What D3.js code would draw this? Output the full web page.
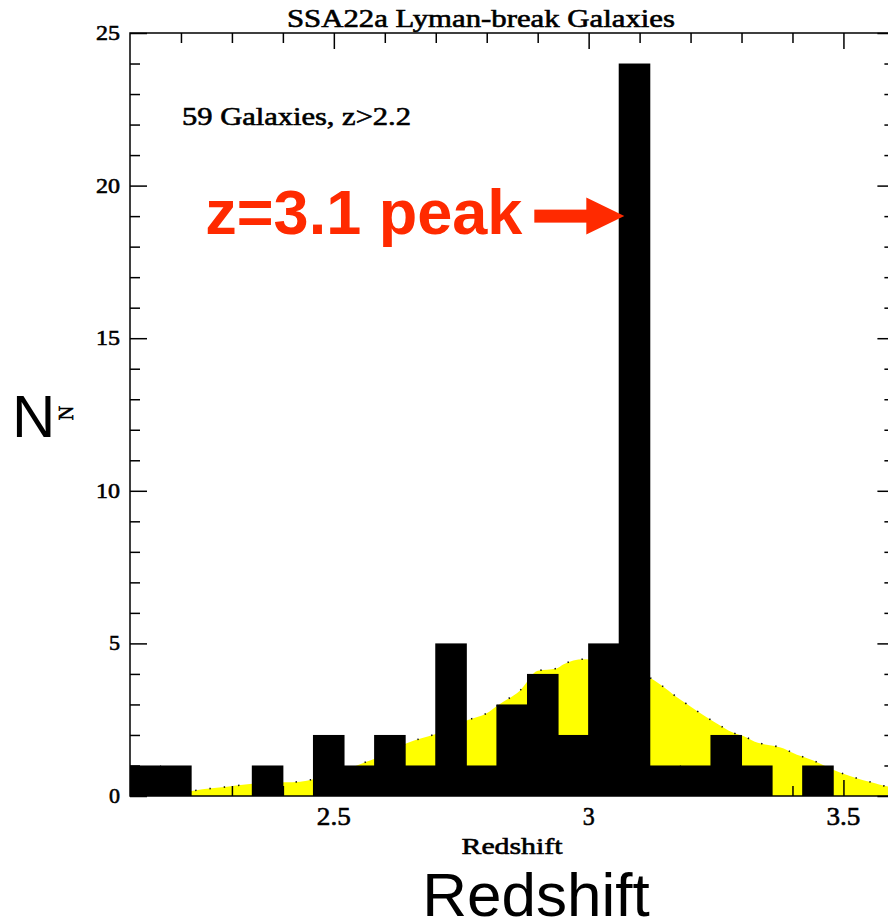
<!DOCTYPE html>
<html>
<head>
<meta charset="utf-8">
<script src="https://cdn.jsdelivr.net/npm/d3@7"></script>
<style>
  html, body { margin: 0; padding: 0; background: #fff; }
  svg { display: block; }
</style>
</head>
<body>
<svg id="chart" width="888" height="923"></svg>
<script>
// ---------------- DATA ----------------
const title = "SSA22a Lyman-break Galaxies";
const note = "59 Galaxies, z>2.2";
const xLabel = "Redshift";
const yLabel = "N";
const bigXLabel = "Redshift";
const bigYLabel = "N";
const peakText = "z=3.1 peak";

// histogram: lower bin edges (redshift) and counts (bin width 0.06)
const binLow = [2.10, 2.16, 2.22, 2.28, 2.34, 2.40, 2.46, 2.52, 2.58, 2.64,
                2.70, 2.76, 2.82, 2.88, 2.94, 3.00, 3.06, 3.12, 3.18, 3.24,
                3.30, 3.36, 3.42, 3.48, 3.54];
const counts = [1, 1, 0, 0, 1, 0, 2, 1, 2, 1,
                5, 1, 3, 4, 2, 5, 24, 1, 1, 2,
                1, 0, 1, 0, 0];
const binWidth = 0.06;

// smooth selection function (yellow)
const selZ = [2.20, 2.224, 2.26, 2.29, 2.335, 2.404, 2.434, 2.46, 2.564, 2.581,
              2.643, 2.672, 2.70, 2.763, 2.80, 2.823, 2.839, 2.865, 2.90, 2.937,
              2.95, 2.99, 3.122, 3.179, 3.245, 3.284, 3.31, 3.32, 3.389, 3.398,
              3.441, 3.481, 3.539, 3.562, 3.578, 3.60];
const selN = [0.10, 0.17, 0.25, 0.30, 0.39, 0.45, 0.47, 0.55, 1.12, 1.23,
              1.73, 1.89, 2.03, 2.49, 2.71, 2.98, 3.15, 3.45, 4.10, 4.18,
              4.31, 4.48, 3.86, 3.17, 2.44, 2.07, 1.92, 1.83, 1.51, 1.43,
              1.16, 0.85, 0.52, 0.42, 0.34, 0.28];

// axes
const xDomain = [2.1, 3.6];
const yDomain = [0, 25];
const xMajor = [2.5, 3.0, 3.5];
const xMajorLabels = ["2.5", "3", "3.5"];
const xMinor = [2.2, 2.3, 2.4, 2.6, 2.7, 2.8, 2.9, 3.1, 3.2, 3.3, 3.4, 3.6];
const yMajor = [0, 5, 10, 15, 20, 25];
const yMajorLabels = ["0", "5", "10", "15", "20", "25"];
const yMinor = [1,2,3,4,6,7,8,9,11,12,13,14,16,17,18,19,21,22,23,24];
const arrowTip = {z: 3.07, n: 19};

// ---------------- LAYOUT ----------------
const svg = d3.select("#chart");
const L = 130, R = 894.4, T = 33, B = 796;
const x = d3.scaleLinear().domain(xDomain).range([L, R]);
const y = d3.scaleLinear().domain(yDomain).range([B, T]);

const pgFont = "'Liberation Serif', 'DejaVu Serif', serif";
const red = "#ff2a00";

// clip to plot frame
svg.append("defs").append("clipPath").attr("id", "plotclip")
  .append("rect").attr("x", L).attr("y", T).attr("width", R - L).attr("height", B - T);
const plot = svg.append("g").attr("clip-path", "url(#plotclip)");

// yellow selection function
const pts = selZ.map((z, i) => [z, selN[i]]);
plot.append("path")
  .datum(pts)
  .attr("fill", "#ffff00")
  .attr("d", d3.area().x(d => x(d[0])).y0(y(0)).y1(d => y(d[1])).curve(d3.curveMonotoneX));
plot.append("path")
  .datum(pts)
  .attr("fill", "none")
  .attr("stroke", "#111")
  .attr("stroke-width", 1.6)
  .attr("stroke-dasharray", "1.4 13")
  .attr("d", d3.line().x(d => x(d[0])).y(d => y(d[1])).curve(d3.curveMonotoneX));

// histogram bars (slightly overlapped to avoid seams)
plot.selectAll("rect.bar")
  .data(binLow.map((z, i) => ({z, n: counts[i]})).filter(d => d.n > 0))
  .join("rect")
  .attr("class", "bar")
  .attr("x", d => x(d.z) - 0.5)
  .attr("width", d => x(d.z + binWidth) - x(d.z) + 1)
  .attr("y", d => y(d.n))
  .attr("height", d => y(0) - y(d.n))
  .attr("fill", "#000");

// axes ticks via d3 axes
function styleAxis(g) {
  g.select(".domain").remove();
  g.selectAll(".tick line").attr("stroke", "#000").attr("stroke-width", 1.5);
  g.selectAll(".tick text").remove();
}
svg.append("g").attr("transform", `translate(0,${B})`)
  .call(d3.axisBottom(x).tickValues(xMajor).tickSizeInner(-16).tickSizeOuter(0)).call(styleAxis);
svg.append("g").attr("transform", `translate(0,${B})`)
  .call(d3.axisBottom(x).tickValues(xMinor).tickSizeInner(-10).tickSizeOuter(0)).call(styleAxis);
svg.append("g").attr("transform", `translate(0,${T})`)
  .call(d3.axisTop(x).tickValues(xMajor).tickSizeInner(-16).tickSizeOuter(0)).call(styleAxis);
svg.append("g").attr("transform", `translate(0,${T})`)
  .call(d3.axisTop(x).tickValues(xMinor).tickSizeInner(-10).tickSizeOuter(0)).call(styleAxis);
svg.append("g").attr("transform", `translate(${L},0)`)
  .call(d3.axisLeft(y).tickValues(yMajor).tickSizeInner(-17).tickSizeOuter(0)).call(styleAxis);
svg.append("g").attr("transform", `translate(${L},0)`)
  .call(d3.axisLeft(y).tickValues(yMinor).tickSizeInner(-10).tickSizeOuter(0)).call(styleAxis);
svg.append("g").attr("transform", `translate(${R},0)`)
  .call(d3.axisRight(y).tickValues(yMajor).tickSizeInner(-17).tickSizeOuter(0)).call(styleAxis);
svg.append("g").attr("transform", `translate(${R},0)`)
  .call(d3.axisRight(y).tickValues(yMinor).tickSizeInner(-10).tickSizeOuter(0)).call(styleAxis);

// frame
svg.append("rect")
  .attr("x", L).attr("y", T).attr("width", R - L).attr("height", B - T)
  .attr("fill", "none").attr("stroke", "#000").attr("stroke-width", 1.5);

// PGPLOT-like text helper: fixed width via textLength
function pgText(txt, x0, yb, size, width, anchor) {
  let xs = x0;
  if (anchor === "middle") xs = x0 - width / 2;
  if (anchor === "end") xs = x0 - width;
  return svg.append("text")
    .attr("x", xs).attr("y", yb)
    .attr("font-family", pgFont)
    .attr("font-size", size)
    .attr("fill", "#000")
    .attr("stroke", "#000")
    .attr("stroke-width", 0.6)
    .attr("textLength", width)
    .attr("lengthAdjust", "spacingAndGlyphs")
    .text(txt);
}

// x tick labels
xMajor.forEach((v, i) => {
  const w = xMajorLabels[i].length === 1 ? 12 : 34;
  pgText(xMajorLabels[i], x(v), 825, 26, w, "middle");
});
// y tick labels
yMajor.forEach((v, i) => {
  const w = yMajorLabels[i].length === 1 ? 11 : 24;
  pgText(yMajorLabels[i], 120, y(v) + 7, 22, w, "end");
});

// title & note & small axis labels
pgText(title, 287, 27, 25, 388, "start");
pgText(note, 182, 125, 25, 229, "start");
pgText(xLabel, 512, 854, 24, 101, "middle");
svg.append("text")
  .attr("transform", "translate(73,413) rotate(-90)")
  .attr("text-anchor", "middle")
  .attr("font-family", pgFont)
  .attr("font-size", 20)
  .attr("fill", "#000")
  .attr("stroke", "#000")
  .attr("stroke-width", 0.6)
  .text(yLabel);

// big overlay labels
svg.append("text")
  .attr("x", 12).attr("y", 437)
  .attr("font-family", "'Liberation Sans', Arial, sans-serif")
  .attr("font-size", 60)
  .attr("fill", "#000")
  .text(bigYLabel);
svg.append("text")
  .attr("x", 536).attr("y", 916)
  .attr("text-anchor", "middle")
  .attr("font-family", "'Liberation Sans', Arial, sans-serif")
  .attr("font-size", 62)
  .attr("fill", "#000")
  .text(bigXLabel);

// red annotation with arrow
const tx = x(arrowTip.z), ty = y(arrowTip.n);
svg.append("text")
  .attr("x", tx - 102).attr("y", ty + 18)
  .attr("text-anchor", "end")
  .attr("font-family", "'Liberation Sans', Arial, sans-serif")
  .attr("font-weight", "bold")
  .attr("font-size", 63)
  .attr("fill", red)
  .text(peakText);
svg.append("rect")
  .attr("x", tx - 90).attr("y", ty - 6.5)
  .attr("width", 54).attr("height", 13)
  .attr("fill", red);
svg.append("path")
  .attr("d", `M${tx},${ty} L${tx - 38},${ty - 18.5} L${tx - 38},${ty + 18.5} Z`)
  .attr("fill", red);
</script>
</body>
</html>
